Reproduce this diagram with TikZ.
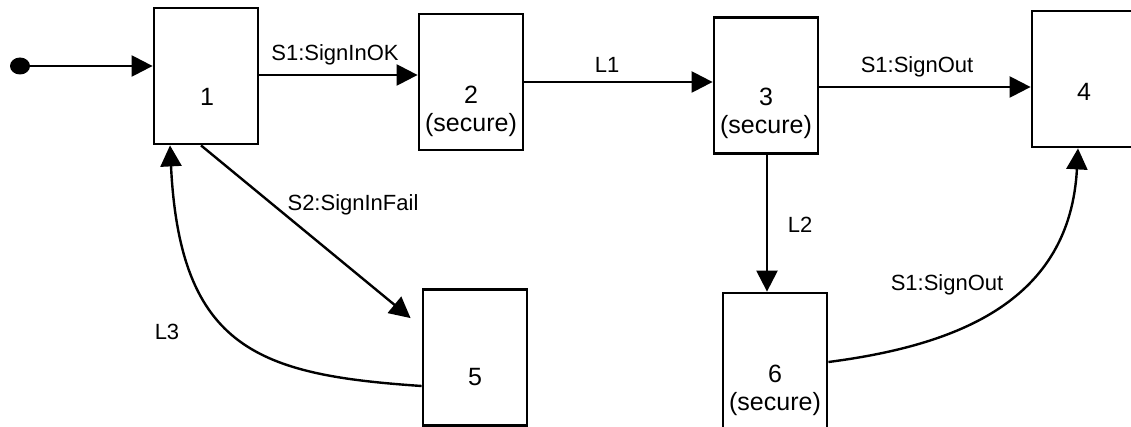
\documentclass[tikz,border=0pt]{standalone}
\usepackage{fontspec}
\setmainfont{Liberation Sans}
\usetikzlibrary{arrows.meta,calc,shapes.geometric}

\tikzset{
  state/.style={draw, line width=2.8pt, minimum width=104pt, minimum height=136pt, inner sep=0pt},
  statetext/.style={font=\fontsize{25}{30}\selectfont, inner sep=0pt, align=center},
  edgelabel/.style={font=\fontsize{22}{24}\selectfont, inner sep=0pt},
  arr/.style={line width=2.4pt, -{Triangle[length=21pt,width=21pt]}},
}

\begin{document}
\begin{tikzpicture}[x=1pt,y=-1pt]
\useasboundingbox (0,0) rectangle (1131,427);
\clip (0,0) rectangle (1131,427);

% states
\node[state] (b1) at (206,76) {};
\node[state] (b2) at (471,82) {};
\node[state] (b3) at (766,85.5) {};
\node[state] (b4) at (1084,79) {};
\node[state] (b5) at (475,357.5) {};
\node[state] (b6) at (775,361) {};

% state names
\node[statetext] (t1) at (207,97) {1};
\node[statetext] (t2) at (471,111) {2\\[-2pt](secure)};
\node[statetext] (t3) at (766,113) {3\\[-2pt](secure)};
\node[statetext] (t4) at (1084,92) {4};
\node[statetext] (t5) at (475,377) {5};
\node[statetext] (t6) at (775,390) {6\\[-2pt](secure)};

% initial pseudo-state
\node[fill=black, ellipse, minimum width=20pt, minimum height=17pt, inner sep=0pt] (init) at (20,66) {};
\coordinate (failend) at ($(b5.north west)+(-11,30)$);

% transitions
\draw[arr] (init) -- (init -| b1.west);
\draw[arr] ([yshift=1pt]b1.east) -- ([yshift=1pt]b1.east -| b2.west);
\draw[arr] (b2.east) -- (b2.east -| b3.west);
\draw[arr] ([yshift=-1.5pt]b3.east) -- ([yshift=-1.5pt]b3.east -| b4.west);
\draw[arr] ([xshift=1pt]b3.south) -- ([xshift=1pt]b3.south |- b6.north);
\draw[arr] ([xshift=-5pt]b1.south) -- (failend);
\draw[arr] ([yshift=-28.5pt]b5.west) .. controls (260,375) and (180,350) .. ([xshift=-36pt]b1.south);
\draw[arr] ([yshift=-1pt]b6.east) .. controls (960,345) and (1070,300) .. ([xshift=-6pt]b4.south);

% transition labels
\node[edgelabel] (l1) at (335,55) {S1:SignInOK};
\node[edgelabel] (l2) at (607,65) {L1};
\node[edgelabel] (l3) at (917,67) {S1:SignOut};
\node[edgelabel] (l4) at (800,225) {L2};
\node[edgelabel] (l5) at (353,205) {S2:SignInFail};
\node[edgelabel] (l6) at (167,332) {L3};
\node[edgelabel] (l7) at (947,285) {S1:SignOut};
\end{tikzpicture}
\end{document}
